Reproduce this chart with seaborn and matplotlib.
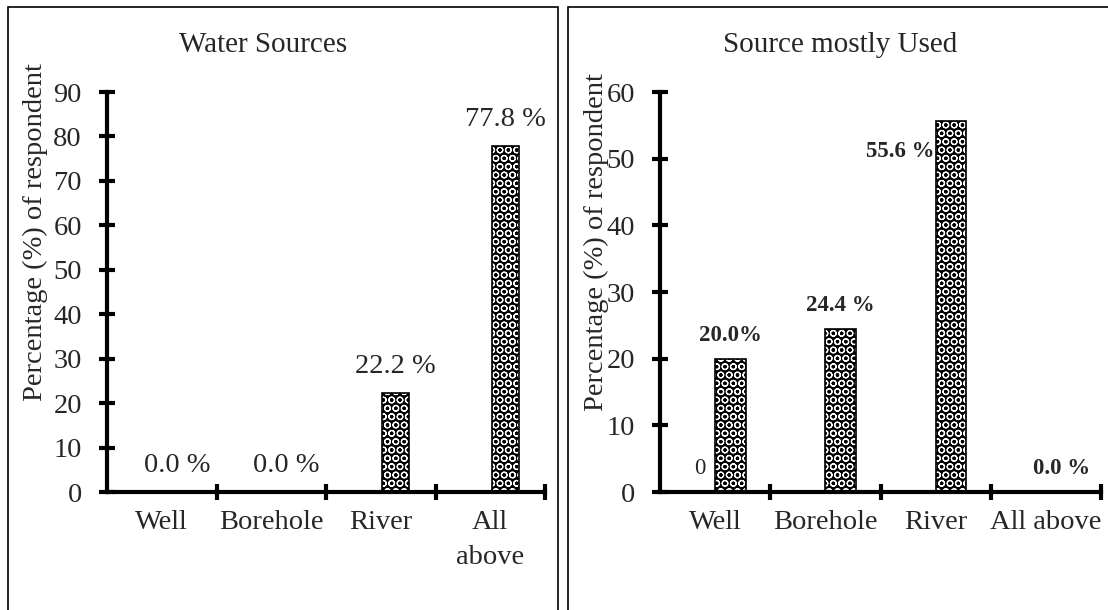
import pandas as pd
import numpy as np
import matplotlib.pyplot as plt
import matplotlib.patches as mpatches
import seaborn as sns

# data
categories_left = ['Well', 'Borehole', 'River', 'All\nabove']
values_left = [0.0, 0.0, 22.2, 77.8]
labels_left = ['0.0 %', '0.0 %', '22.2 %', '77.8 %']

categories_right = ['Well', 'Borehole', 'River', 'All above']
values_right = [20.0, 24.4, 55.6, 0.0]
labels_right = ['20.0%', '24.4 %', '55.6 %', '0.0 %']
# first (empty) series of the right chart, only its "0" label shows
values_right_s1 = [0.0, 0.0, 0.0, 0.0]
labels_right_s1 = ['0', '', '', '']

titles = ['Water Sources', 'Source mostly Used']
ylabel = 'Percentage (%) of respondent'

sns.set_style('ticks')
plt.rcParams['font.family'] = ['Liberation Serif', 'DejaVu Serif']
plt.rcParams['hatch.linewidth'] = 0.85

W, H = 1108, 610
fig = plt.figure(figsize=(W / 100, H / 100), dpi=100)


def px(x0, y0, x1, y1):
    return [x0 / W, 1 - y1 / H, (x1 - x0) / W, (y1 - y0) / H]


def make_frame(cats, s1, s2):
    return pd.DataFrame({
        'cat': cats * 2,
        'series': ['s1'] * len(cats) + ['s2'] * len(cats),
        'val': list(s1) + list(s2),
    })


def style_axis(ax, ymax):
    sns.despine(ax=ax)
    for side in ['left', 'bottom']:
        ax.spines[side].set_linewidth(3)
        ax.spines[side].set_color('black')
    ax.set_xlim(-0.5, 3.5)
    ax.set_ylim(0, ymax)
    ax.set_yticks(np.arange(0, ymax + 1, 10))
    ax.tick_params(axis='y', direction='inout', length=12, width=3,
                   pad=12, labelsize=20.5, color='black')
    ax.tick_params(axis='x', which='major', length=0, pad=13, labelsize=20.5)
    ax.set_xticks([0.5, 1.5, 2.5, 3.5], minor=True)
    ax.tick_params(axis='x', which='minor', direction='inout', length=12,
                   width=3, color='black')
    ax.set_xlabel('')
    ax.set_ylabel(ylabel, fontsize=20.5)
    for t in ax.get_xticklabels():
        t.set_linespacing(1.5)
        t.set_verticalalignment('top')


def hatch_bars(ax, container):
    for bar in container:
        bar.set_facecolor('black')
        bar.set_edgecolor('white')
        bar.set_hatch('OO')
        bar.set_linewidth(0)
        # outline on top
        ax.add_patch(mpatches.Rectangle(bar.get_xy(), bar.get_width(), bar.get_height(),
                                        fill=False, edgecolor='black', linewidth=1.2, zorder=3))


# left panel
ax1 = fig.add_axes(px(107, 92, 545, 492))
df1 = make_frame(categories_left, [0] * 4, values_left)
sns.barplot(data=df1, x='cat', y='val', hue='series', palette=['black', 'black'],
            width=0.55, gap=0.1, legend=False, ax=ax1)
style_axis(ax1, 90)
hatch_bars(ax1, ax1.containers[1])
for bar, lab in zip(ax1.containers[1], labels_left):
    ax1.annotate(lab, (bar.get_x() + bar.get_width() / 2, bar.get_height()),
                 xytext=(0, 19), textcoords='offset points',
                 ha='center', va='center', fontsize=20.5)
ax1.yaxis.set_label_coords(-0.135, 0.65)

# right panel
ax2 = fig.add_axes(px(660, 92, 1101, 492))
df2 = make_frame(categories_right, values_right_s1, values_right)
sns.barplot(data=df2, x='cat', y='val', hue='series', palette=['black', 'black'],
            width=0.56, gap=0.0, legend=False, ax=ax2)
style_axis(ax2, 60)
hatch_bars(ax2, ax2.containers[1])
for bar, lab in zip(ax2.containers[1], labels_right):
    if lab == '55.6 %':
        # this one sits left of the bar, under its top
        ax2.annotate(lab, (bar.get_x(), bar.get_height()),
                     xytext=(-1, -22), textcoords='offset points',
                     ha='right', va='center', fontsize=16.5, fontweight='bold')
    else:
        ax2.annotate(lab, (bar.get_x() + bar.get_width() / 2, bar.get_height()),
                     xytext=(0, 17), textcoords='offset points',
                     ha='center', va='center', fontsize=16.5, fontweight='bold')
for bar, lab in zip(ax2.containers[0], labels_right_s1):
    if lab:
        ax2.annotate(lab, (bar.get_x() + bar.get_width() / 2, bar.get_height()),
                     xytext=(0, 17), textcoords='offset points',
                     ha='center', va='center', fontsize=16.5)
ax2.yaxis.set_label_coords(-0.115, 0.625)

# titles
fig.text(263 / W, 1 - 45 / H, titles[0], ha='center', va='center', fontsize=21)
fig.text(840 / W, 1 - 45 / H, titles[1], ha='center', va='center', fontsize=21)

# panel frames (bottom edges run off the picture)
fig.add_artist(mpatches.Rectangle((8 / W, -0.1), (558 - 8) / W, 1.1 - 7 / H,
                                  transform=fig.transFigure, fill=False,
                                  edgecolor='black', linewidth=1.2))
fig.add_artist(mpatches.Rectangle((568 / W, -0.1), 0.6, 1.1 - 7 / H,
                                  transform=fig.transFigure, fill=False,
                                  edgecolor='black', linewidth=1.2))

fig.savefig('out.png', dpi=100)
